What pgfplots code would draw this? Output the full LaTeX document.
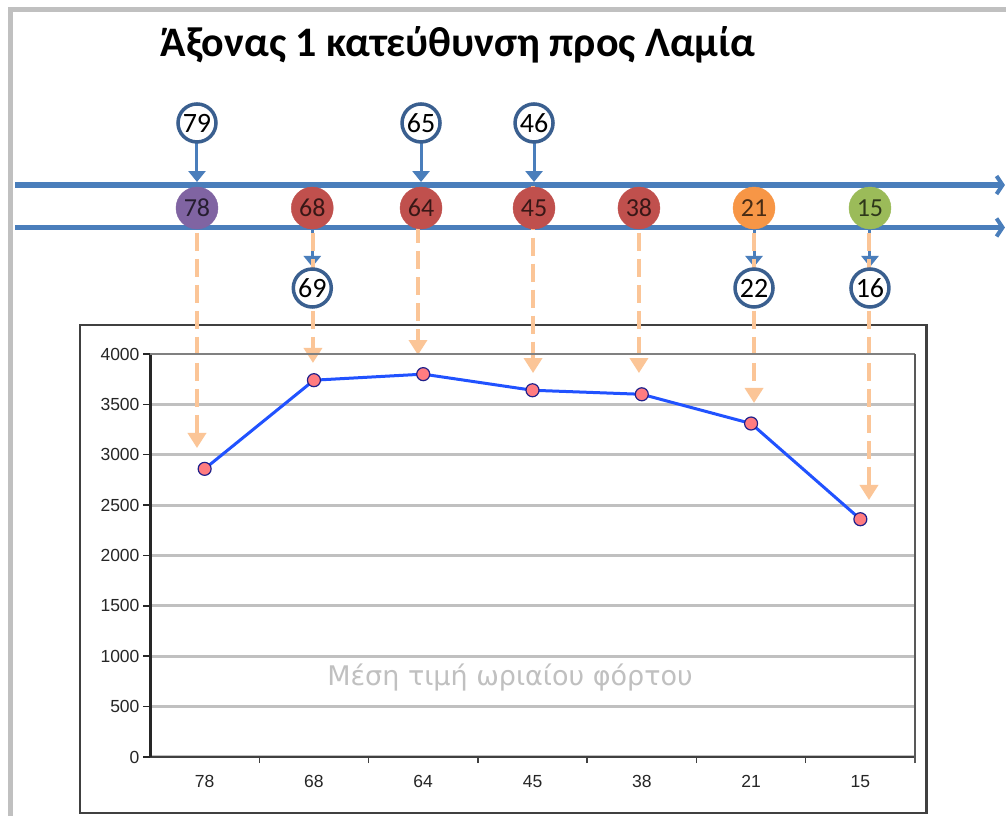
\documentclass[border=0pt]{standalone}
\usepackage{pgfplots}
\pgfplotsset{compat=1.18}
\usepackage{pgfplotstable}
\usepackage{fontspec}
\setmainfont{Liberation Sans}
\newfontfamily\calibri{Carlito}
\newfontfamily\verd{DejaVu Sans}
\usetikzlibrary{arrows.meta}

\definecolor{oblue}{HTML}{4A7EBB}
\definecolor{dblue}{HTML}{3A5F8F}
\definecolor{cpurple}{HTML}{8064A2}
\definecolor{cred}{HTML}{C0504D}
\definecolor{corange}{HTML}{F79646}
\definecolor{cgreen}{HTML}{9BBB59}
\definecolor{lorange}{HTML}{FBC597}
\definecolor{lineblue}{HTML}{2152FF}
\definecolor{salmonc}{HTML}{FF7C80}
\definecolor{navyc}{HTML}{20208A}
\definecolor{gridgray}{HTML}{C0C0C0}

% main series
\pgfplotstableread{
x y
0.5 2860
1.5 3740
2.5 3800
3.5 3640
4.5 3600
5.5 3310
6.5 2360
}\loaddata

% coloured circles between the two arrows (one table per colour)
\pgfplotstableread{
x y lab
0.430 5449 78
}\purplecircles
\pgfplotstableread{
x y lab
1.485 5449 68
2.480 5449 64
3.514 5449 45
4.474 5449 38
}\redcircles
\pgfplotstableread{
x y lab
5.527 5449 21
}\orangecircles
\pgfplotstableread{
x y lab
6.588 5449 15
}\greencircles

% white reference circles
\pgfplotstableread{
x y lab
0.430 6293 79
2.480 6293 65
3.514 6293 46
1.485 4655 69
5.527 4655 22
6.588 4655 16
}\refcircles

\begin{document}
\begin{tikzpicture}[x=1pt,y=1pt]
\useasboundingbox (0,0) rectangle (1006,816);
\fill[white] (0,0) rectangle (1006,816);
% outer grey frame
\draw[gridgray, line width=5pt] (10.8,0) -- (10.8,806.5) -- (1006,806.5);
% chart frame
\draw[black!75, line width=2.5pt] (80,3) rectangle (926.5,491);
% title
\node[font=\calibri\bfseries\fontsize{42}{48}\selectfont, anchor=center] at (458,771) {Άξονας 1 κατεύθυνση προς Λαμία};

\begin{axis}[
  at={(150pt,59pt)}, anchor=south west,
  scale only axis, width=765pt, height=403pt,
  xmin=0, xmax=7, ymin=0, ymax=4000,
  clip=false,
  axis x line*=bottom, axis y line*=left,
  x axis line style={draw=black!75, line width=2pt, -},
  y axis line style={draw=black!85, line width=3pt, -},
  xtick={0.5,1.5,...,6.5}, xticklabels={78,68,64,45,38,21,15},
  minor xtick={1,2,...,7},
  ytick={0,500,...,3500}, extra y ticks={4000}, extra y tick style={grid=none},
  ymajorgrids, major grid style={draw=gridgray, line width=3pt},
  tick align=outside,
  major tick length=7pt, minor tick length=6pt,
  major x tick style={draw=none},
  minor x tick style={draw=black!75, line width=1.5pt},
  y tick style={draw=black!85, line width=1.5pt},
  tick label style={font=\fontsize{17.5}{19}\selectfont, text=black!85},
  xticklabel style={yshift=-8pt},
  yticklabel style={xshift=0pt},
  /pgf/number format/1000 sep={},
  /pgf/number format/assume math mode=true,
  circlelabel/.style={point meta=explicit symbolic, nodes near coords,
    nodes near coords align={center},
    every node near coord/.append style={anchor=center, font=\calibri\fontsize{26}{30}\selectfont, text=black, text opacity=0.7}},
]

% light grey caption inside plot
\node[text=gridgray, font=\verd\fontsize{27}{31}\selectfont] at (axis cs:3.294,784) {Μέση τιμή ωριαίου φόρτου};

% coloured circles
\addplot[cpurple, only marks, mark=*, mark size=21pt, mark options={draw=cpurple, fill=cpurple}, circlelabel] table[x=x, y=y, meta=lab] {\purplecircles};
\addplot[cred, only marks, mark=*, mark size=21pt, mark options={draw=cred, fill=cred}, circlelabel] table[x=x, y=y, meta=lab] {\redcircles};
\addplot[corange, only marks, mark=*, mark size=21pt, mark options={draw=corange, fill=corange}, circlelabel] table[x=x, y=y, meta=lab] {\orangecircles};
\addplot[cgreen, only marks, mark=*, mark size=21pt, mark options={draw=cgreen, fill=cgreen}, circlelabel] table[x=x, y=y, meta=lab] {\greencircles};

% two horizontal blue arrows
\addplot[oblue, line width=5.5pt, -{Straight Barb[length=6pt, width=18pt, line width=4pt]}] coordinates {(-1.235,5677) (7.823,5677)};
\addplot[oblue, line width=5.5pt, -{Straight Barb[length=6pt, width=18pt, line width=4pt]}] coordinates {(-1.235,5256) (7.823,5256)};

% short blue arrows
\addplot[oblue, line width=3pt, -{Triangle[length=11pt, width=17pt]}] coordinates {(0.430,6094) (0.430,5707)};
\addplot[oblue, line width=3pt, -{Triangle[length=11pt, width=17pt]}] coordinates {(2.480,6094) (2.480,5707)};
\addplot[oblue, line width=3pt, -{Triangle[length=11pt, width=17pt]}] coordinates {(3.514,6094) (3.514,5707)};
\addplot[oblue, line width=3pt, -{Triangle[length=11pt, width=17pt]}] coordinates {(1.485,5231) (1.485,4864)};
\addplot[oblue, line width=3pt, -{Triangle[length=11pt, width=17pt]}] coordinates {(5.527,5231) (5.527,4864)};
\addplot[oblue, line width=3pt, -{Triangle[length=11pt, width=17pt]}] coordinates {(6.588,5231) (6.588,4864)};

% white reference circles
\addplot[only marks, mark=*, mark size=19pt,
  mark options={fill=white, draw=dblue, line width=3.5pt},
  point meta=explicit symbolic, nodes near coords, nodes near coords align={center},
  every node near coord/.append style={anchor=center, font=\calibri\fontsize{28}{30}\selectfont, text=black}
] table[x=x, y=y, meta=lab] {\refcircles};

% dashed orange arrows
\pgfplotsset{orangearrow/.style={lorange, line width=3.5pt, dash pattern=on 18pt off 8pt, -{Triangle[length=15pt, width=18pt]}}}
\addplot[orangearrow] coordinates {(0.430,5201) (0.430,3067)};
\addplot[orangearrow] coordinates {(1.491,5201) (1.491,3911)};
\addplot[orangearrow] coordinates {(2.452,5280) (2.452,3990)};
\addplot[orangearrow] coordinates {(3.505,5670) (3.505,3811)};
\addplot[orangearrow] coordinates {(4.474,5201) (4.474,3811)};
\addplot[orangearrow] coordinates {(5.527,5201) (5.527,3514)};
\addplot[orangearrow] coordinates {(6.579,5201) (6.579,2551)};

% main series
\addplot[lineblue, line width=3pt, mark=*, mark size=6.5pt,
  mark options={fill=salmonc, draw=navyc, line width=1.2pt}] table[x=x, y=y] {\loaddata};

% top and right borders of the plot area
\draw[black!50, line width=1.5pt] (rel axis cs:0,1) -- (rel axis cs:1,1);
\draw[black!65, line width=2pt] (rel axis cs:1,1) -- (rel axis cs:1,0) -- ++(0pt,-6pt);
\end{axis}
\end{tikzpicture}
\end{document}
